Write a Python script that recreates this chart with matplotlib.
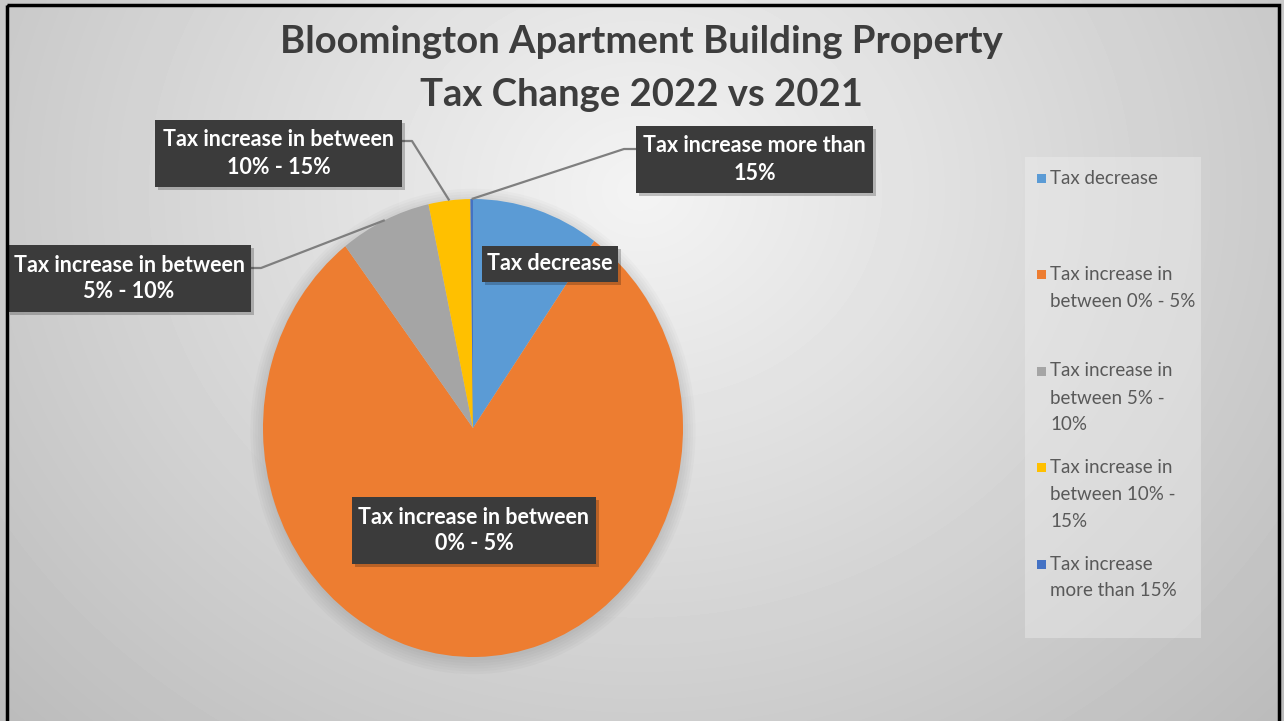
import numpy as np
import matplotlib
matplotlib.use("Agg")
import matplotlib.pyplot as plt
from matplotlib.patches import Rectangle, Ellipse

# ---------------- data ----------------
title_lines = ["Bloomington Apartment Building Property", "Tax Change 2022 vs 2021"]
categories = ["Tax decrease",
              "Tax increase in between 0% - 5%",
              "Tax increase in between 5% - 10%",
              "Tax increase in between 10% - 15%",
              "Tax increase more than 15%"]
shares = [9.8, 79.8, 7.0, 3.2, 0.2]
colors = ["#5B9BD5", "#ED7D31", "#A5A5A5", "#FFC000", "#4472C4"]
data_labels = ["Tax decrease",
               "Tax increase in between\n0% - 5%",
               "Tax increase in between\n5% - 10%",
               "Tax increase in between\n10% - 15%",
               "Tax increase more than\n15%"]
legend_labels = ["Tax decrease",
                 "Tax increase in\nbetween 0% - 5%",
                 "Tax increase in\nbetween 5% -\n10%",
                 "Tax increase in\nbetween 10% -\n15%",
                 "Tax increase\nmore than 15%"]

# ---------------- layout (pixels, y down) ----------------
W, H = 1284, 721
FONT = "Lato"
label_boxes = [(482, 246, 618, 282), (352, 497, 596, 564), (7, 245, 251, 312),
               (155, 120, 402, 187), (636, 126, 873, 193)]
leaders = [None, None, (251, 268, 10), (402, 141, 10), (636, 149, -12)]

fig = plt.figure(figsize=(W / 100, H / 100), dpi=100)

# background gradient
bg = fig.add_axes([0, 0, 1, 1], zorder=-10)
yy, xx = np.mgrid[0:H, 0:W]
r = np.sqrt(((xx - 640) / 760.0) ** 2 + ((yy - 190) / 660.0) ** 2)
val = np.clip(0.955 - 0.19 * r, 0, 1)
bg.imshow(val, cmap="gray", vmin=0, vmax=1, extent=[0, W, H, 0], aspect="auto",
          interpolation="bilinear")
bg.set_xlim(0, W)
bg.set_ylim(H, 0)
bg.axis("off")

# pie (stretched ellipse like the reference)
cx, cy, rx, ry = 473, 428, 210, 229
ax = fig.add_axes([(cx - rx) / W, 1 - (cy + ry) / H, 2 * rx / W, 2 * ry / H], zorder=1)
# soft shadow
for s in np.linspace(1.0, 1.06, 6):
    ax.add_patch(Ellipse((0.0, -0.015), 2 * s, 2 * s, color="#000000",
                         alpha=0.018, lw=0, zorder=0, clip_on=False))
wedges, _ = ax.pie(shares, colors=colors, startangle=90, counterclock=False,
                   radius=1, wedgeprops=dict(linewidth=0))
ax.set_aspect("auto")
ax.set_xlim(-1, 1)
ax.set_ylim(-1, 1)
ax.axis("off")

# overlay in pixel coordinates
ov = fig.add_axes([0, 0, 1, 1], zorder=5)
ov.set_xlim(0, W)
ov.set_ylim(H, 0)
ov.axis("off")
ov.patch.set_alpha(0)

fig.canvas.draw()

# leader lines
for w, ld in zip(wedges, leaders):
    if ld is None:
        continue
    th = np.deg2rad((w.theta1 + w.theta2) / 2)
    px, py = ax.transData.transform((np.cos(th), np.sin(th)))
    ex, ey = px, H - py
    sx, sy, dx = ld
    ov.plot([sx, sx + dx, ex], [sy, sy, ey], color="#7f7f7f", lw=1.6, zorder=2,
            solid_capstyle="butt")

# data label boxes
for lab, (x0, y0, x1, y1) in zip(data_labels, label_boxes):
    ov.add_patch(Rectangle((x0 + 3, y0 + 3), x1 - x0, y1 - y0, facecolor="#000000",
                           alpha=0.22, lw=0, zorder=3))
    ov.add_patch(Rectangle((x0, y0), x1 - x0, y1 - y0, facecolor="#3b3b3b",
                           lw=0, zorder=4))
    lines = lab.split("\n")
    ymid = (y0 + y1) / 2
    n = len(lines)
    for i, t in enumerate(lines):
        yl = ymid + (i - (n - 1) / 2) * 27
        ov.text((x0 + x1) / 2, yl, t, ha="center", va="center", color="white",
                fontsize=15.5, fontweight="bold", family=FONT, zorder=5)

# title
for i, t in enumerate(title_lines):
    ov.text(641, 42 + i * 53, t, ha="center", va="center", color="#3d3d3d",
            fontsize=27.5, fontweight="bold", family=FONT, zorder=5)

# legend
ov.add_patch(Rectangle((1025, 157), 176, 481, facecolor="#f0f0f0", alpha=0.4,
                       lw=0, zorder=2))
for k, (lab, col) in enumerate(zip(legend_labels, colors)):
    y_first = 178 + k * 96.5
    ov.add_patch(Rectangle((1037, y_first - 4.5), 9, 9, facecolor=col, lw=0, zorder=4))
    for i, t in enumerate(lab.split("\n")):
        ov.text(1050, y_first + i * 27, t, ha="left", va="center", color="#595959",
                fontsize=13.5, family=FONT, zorder=5)

# outer black border
ov.add_patch(Rectangle((6.5, 5), 1272, 730, facecolor="none", edgecolor="black",
                       lw=2.5, zorder=10, clip_on=False))

fig.savefig("out.png", dpi=100)
